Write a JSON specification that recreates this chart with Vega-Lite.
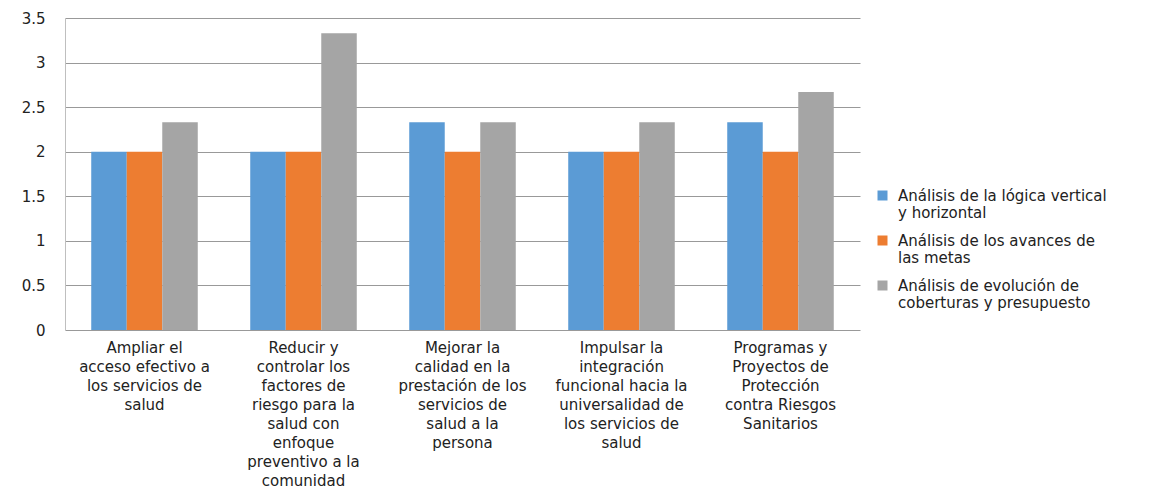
{
  "$schema": "https://vega.github.io/schema/vega-lite/v6.json",
  "autosize": "none",
  "width": 795,
  "height": 312,
  "padding": {"left": 65, "top": 18, "right": 304, "bottom": 163},
  "background": "white",
  "config": {
    "view": {"stroke": null},
    "font": "DejaVu Sans"
  },
  "data": {
    "values": [
      {"cat": "Ampliar el|acceso efectivo a|los servicios de|salud", "serie": "Análisis de la lógica vertical|y horizontal", "v": 2},
      {"cat": "Ampliar el|acceso efectivo a|los servicios de|salud", "serie": "Análisis de los avances de|las metas", "v": 2},
      {"cat": "Ampliar el|acceso efectivo a|los servicios de|salud", "serie": "Análisis de evolución de|coberturas y presupuesto", "v": 2.33},
      {"cat": "Reducir y|controlar los|factores de|riesgo para la|salud con|enfoque|preventivo a la|comunidad", "serie": "Análisis de la lógica vertical|y horizontal", "v": 2},
      {"cat": "Reducir y|controlar los|factores de|riesgo para la|salud con|enfoque|preventivo a la|comunidad", "serie": "Análisis de los avances de|las metas", "v": 2},
      {"cat": "Reducir y|controlar los|factores de|riesgo para la|salud con|enfoque|preventivo a la|comunidad", "serie": "Análisis de evolución de|coberturas y presupuesto", "v": 3.33},
      {"cat": "Mejorar la|calidad en la|prestación de los|servicios de|salud a la|persona", "serie": "Análisis de la lógica vertical|y horizontal", "v": 2.33},
      {"cat": "Mejorar la|calidad en la|prestación de los|servicios de|salud a la|persona", "serie": "Análisis de los avances de|las metas", "v": 2},
      {"cat": "Mejorar la|calidad en la|prestación de los|servicios de|salud a la|persona", "serie": "Análisis de evolución de|coberturas y presupuesto", "v": 2.33},
      {"cat": "Impulsar la|integración|funcional hacia la|universalidad de|los servicios de|salud", "serie": "Análisis de la lógica vertical|y horizontal", "v": 2},
      {"cat": "Impulsar la|integración|funcional hacia la|universalidad de|los servicios de|salud", "serie": "Análisis de los avances de|las metas", "v": 2},
      {"cat": "Impulsar la|integración|funcional hacia la|universalidad de|los servicios de|salud", "serie": "Análisis de evolución de|coberturas y presupuesto", "v": 2.33},
      {"cat": "Programas y|Proyectos de|Protección|contra Riesgos|Sanitarios", "serie": "Análisis de la lógica vertical|y horizontal", "v": 2.33},
      {"cat": "Programas y|Proyectos de|Protección|contra Riesgos|Sanitarios", "serie": "Análisis de los avances de|las metas", "v": 2},
      {"cat": "Programas y|Proyectos de|Protección|contra Riesgos|Sanitarios", "serie": "Análisis de evolución de|coberturas y presupuesto", "v": 2.67}
    ]
  },
  "mark": {"type": "bar"},
  "encoding": {
    "x": {
      "field": "cat",
      "type": "nominal",
      "sort": null,
      "title": null,
      "scale": {"paddingInner": 0.33, "paddingOuter": 0.165},
      "axis": {
        "labelAngle": 0,
        "labelExpr": "split(datum.label, '|')",
        "labelFontSize": 15,
        "labelColor": "#222",
        "labelLineHeight": 19,
        "labelPadding": 10,
        "labelLimit": 200,
        "ticks": false,
        "domain": false
      }
    },
    "xOffset": {
      "field": "serie",
      "type": "nominal",
      "sort": null
    },
    "y": {
      "field": "v",
      "type": "quantitative",
      "title": null,
      "scale": {"domain": [0, 3.5]},
      "axis": {
        "values": [0, 0.5, 1, 1.5, 2, 2.5, 3, 3.5],
        "labelFontSize": 15,
        "labelColor": "#222",
        "labelPadding": 20,
        "ticks": false,
        "domain": true,
        "domainColor": "#bfbfbf",
        "gridColor": "#999999",
        "labelExpr": "datum.value"
      }
    },
    "color": {
      "field": "serie",
      "type": "nominal",
      "sort": null,
      "scale": {"range": ["#5B9BD5", "#ED7D31", "#A5A5A5"]},
      "legend": {
        "title": null,
        "orient": "none",
        "legendX": 810,
        "legendY": 170,
        "symbolType": "square",
        "symbolSize": 100,
        "symbolStrokeWidth": 0,
        "labelExpr": "split(datum.label, '|')",
        "labelFontSize": 15,
        "labelColor": "#222",
        "labelLineHeight": 17,
        "labelLimit": 300,
        "rowPadding": 12,
        "labelOffset": 8
      }
    }
  }
}
